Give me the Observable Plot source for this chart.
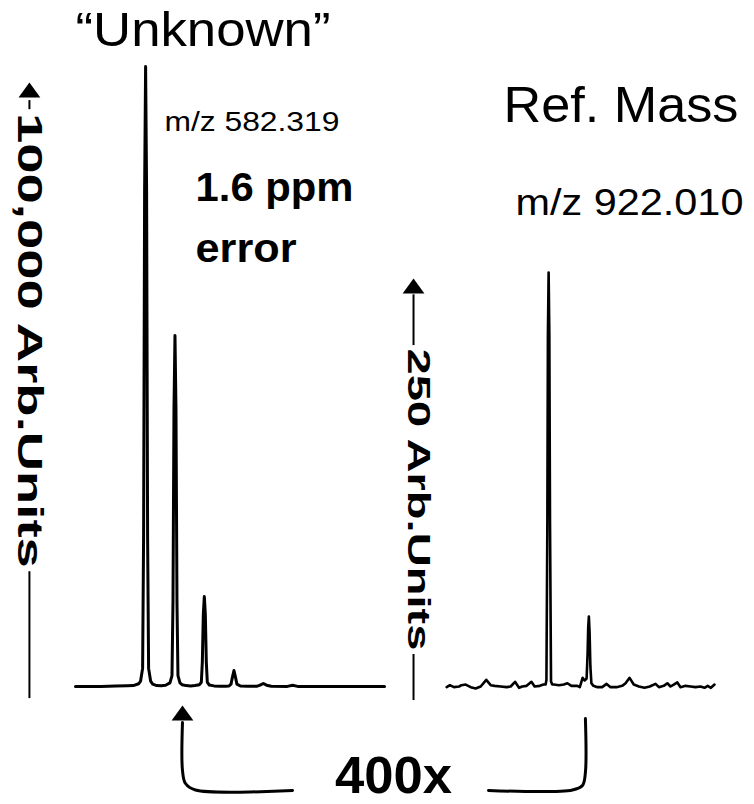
<!DOCTYPE html>
<html>
<head>
<meta charset="utf-8">
<script src="https://cdn.jsdelivr.net/npm/d3@7"></script>
<script src="https://cdn.jsdelivr.net/npm/@observablehq/plot@0.6"></script>
<style>
  body { margin: 0; background: #fff; }
  #fig { position: relative; width: 754px; height: 804px; overflow: hidden; font-family: "Liberation Sans", Arial, sans-serif; }
  #fig svg { position: absolute; left: 0; top: 0; }
</style>
</head>
<body>
<div id="fig"></div>
<script>
// ---------------- DATA ----------------
// "Unknown" spectrum (m/z, intensity in arb. units)
const unknownMz = [579.93, 580.8, 581.3, 581.7, 581.9, 582.08, 582.148, 582.217, 582.251, 582.285, 582.319, 582.353, 582.387, 582.421, 582.49, 582.56, 582.7, 582.85,
  583.0, 583.149, 583.218, 583.252, 583.286, 583.32, 583.354, 583.388, 583.422, 583.49, 583.56, 583.7, 583.85,
  584.0, 584.15, 584.218, 584.252, 584.286, 584.32, 584.354, 584.388, 584.422, 584.49, 584.65, 584.85,
  585.05, 585.16, 585.23, 585.28, 585.33, 585.38, 585.43, 585.55, 585.8,
  586.1, 586.22, 586.33, 586.44, 586.6, 587.15, 587.33, 587.5, 588.0, 590.46];
const unknownIntensity = [0, 0, 80, 120, 150, 450, 900, 3000, 25000, 82000, 102650, 82000, 25000, 3000, 900, 400, 150, 120,
  200, 600, 1800, 14000, 46000, 58100, 46000, 14000, 1800, 600, 300, 150, 100,
  150, 300, 700, 4000, 12000, 14900, 12000, 4000, 700, 250, 100, 60,
  50, 80, 400, 1600, 2650, 1600, 400, 80, 40,
  30, 220, 500, 220, 30, 20, 200, 20, 0, 0];

// Reference mass spectrum (m/z, intensity in arb. units)
const refMz = [919.46, 919.54, 919.64, 919.77, 919.83, 919.935, 920.06, 920.185, 920.31, 920.45, 920.56, 920.66, 920.81, 920.96, 921.06, 921.17, 921.27, 921.35, 921.46, 921.58, 921.66, 921.79, 921.88, 921.935,
  921.955, 921.978, 921.992, 922.01, 922.028, 922.045, 922.07,
  922.1, 922.14, 922.27, 922.39, 922.48, 922.58, 922.73, 922.79, 922.86, 922.91, 922.96,
  922.985, 923.0, 923.017, 923.035, 923.055, 923.08,
  923.13, 923.23, 923.35, 923.46, 923.56, 923.71, 923.85, 923.935, 924.035, 924.14, 924.27, 924.41, 924.54, 924.685, 924.77, 924.89, 924.98, 925.06, 925.14, 925.23, 925.31, 925.435, 925.56, 925.685, 925.81, 925.91, 925.99, 926.07, 926.16];
const refIntensity = [-0.4, 0.8, -0.4, 0, 0.8, 1.2, -0.4, -1.2, 0, 4.1, 0.8, 0.4, 0, -0.4, 0, 2.9, -0.8, 0, 0.4, 2.9, 0, 0.4, 1.2, 1.2,
  4, 100, 215, 253.7, 215, 100, 3,
  1.2, 1.2, 0.8, 1.2, 2.0, 0.4, 0.4, -0.4, 5.3, 3.7, 4.9,
  20, 36, 42.9, 33, 12, 2,
  0.4, -0.4, -0.4, 1.6, -0.4, -0.4, 0.4, 2.0, 5.3, 1.2, 0, -0.8, 0, 1.6, -0.4, 0.4, 2.0, 0, 1.2, 2.5, -0.4, 0.4, 0, -0.4, 0, -0.8, 0.4, -0.8, 1.2];

// Scale bars (arb. units)
const scaleBarValues = [100000, 250];

// Texts
const titles = ["\u201cUnknown\u201d", "Ref. Mass"];
const peakLabels = ["m/z 582.319", "m/z 922.010"];
const errorLines = ["1.6 ppm", "error"];
const scaleLabels = ["100,000 Arb.Units", "250 Arb.Units"];
const gainLabel = "400x";

// ---------------- LAYOUT (data units of each panel) ----------------
const font = "Liberation Sans, Arial, Helvetica, sans-serif";
const unknownTable = unknownMz.map((mz, i) => ({mz, intensity: unknownIntensity[i]}));
const refTable = refMz.map((mz, i) => ({mz, intensity: refIntensity[i]}));

const layoutA = {
  bar: {x: 578.36, top: 97000, bottom: -2000, gapTop: 95500, gapBottom: 19000, labelY: 57300, labelX: 578.36},
  title: {x: 584.275, y: 106000},
  peak: {x: 582.96, y: 92050},
  error: [{x: 584.02, y: 80300}, {x: 584.02, y: 70360}],
  bracket: [{x: 583.576, y: -5960}, {x: 583.576, y: -13907}, {x: 583.678, y: -16060}, {x: 584.019, y: -17136}, {x: 587.325, y: -17219}],
  bracketTip: {x: 583.576, y: -3146}
};
const layoutB = {
  bar: {x: 918.63, top: 240, bottom: -8.6, gapTop: 208.9, gapBottom: 19.6, labelY: 114.6, labelX: 918.73},
  title: {x: 923.82, y: 346.2},
  peak: {x: 921.18, y: 289.2},
  gain: {x: 918.13, y: -65.5},
  bracket: [{x: 922.93, y: -19.6}, {x: 922.93, y: -52.7}, {x: 922.857, y: -60.7}, {x: 922.607, y: -63.4}, {x: 920.506, y: -63.7}]
};

const textLengths = {
  [titles[0]]: 255, [titles[1]]: 235,
  [peakLabels[0]]: 175, [peakLabels[1]]: 228,
  [errorLines[0]]: 158, [errorLines[1]]: 101,
  [scaleLabels[0]]: 455, [scaleLabels[1]]: 302,
  [gainLabel]: 117
};

// filled arrowhead: tip at the anchor point, pointing up
const arrowHead = {
  draw(context, size) {
    const r = Math.sqrt(size / Math.PI);
    context.moveTo(0, 0);
    context.lineTo(r * 1.45, r * 2);
    context.lineTo(-r * 1.45, r * 2);
    context.closePath();
  }
};

const common = {width: 754, height: 804, style: {background: "transparent", fontFamily: font, overflow: "visible"}};
const head = {symbol: arrowHead, r: 7.5, fill: "black"};

// Panel A: Unknown
const plotA = Plot.plot({
  ...common,
  marginLeft: 75, marginRight: 370, marginTop: 82, marginBottom: 118,
  x: {domain: [579.93, 590.46], axis: null},
  y: {domain: [0, scaleBarValues[0]], axis: null},
  marks: [
    Plot.line(unknownTable, {x: "mz", y: "intensity", stroke: "black", strokeWidth: 3, strokeLinejoin: "round"}),
    Plot.ruleX([layoutA.bar.x], {y1: layoutA.bar.top, y2: layoutA.bar.gapTop, stroke: "black", strokeWidth: 2}),
    Plot.ruleX([layoutA.bar.x], {y1: layoutA.bar.gapBottom, y2: layoutA.bar.bottom, stroke: "black", strokeWidth: 2}),
    Plot.dot([{x: layoutA.bar.x, y: scaleBarValues[0]}], {x: "x", y: "y", ...head}),
    Plot.text([scaleLabels[0]], {x: layoutA.bar.labelX, y: layoutA.bar.labelY, text: d => d, rotate: 90, fontSize: 35, fontWeight: "bold", fill: "black", textAnchor: "middle", lineAnchor: "middle"}),
    Plot.text([titles[0]], {x: layoutA.title.x, y: layoutA.title.y, text: d => d, fontSize: 48, fill: "black", textAnchor: "middle", lineAnchor: "bottom"}),
    Plot.text([peakLabels[0]], {x: layoutA.peak.x, y: layoutA.peak.y, text: d => d, fontSize: 28, fill: "black", textAnchor: "start", lineAnchor: "bottom"}),
    Plot.text(errorLines, {x: (d, i) => layoutA.error[i].x, y: (d, i) => layoutA.error[i].y, text: d => d, fontSize: 41, fontWeight: "bold", fill: "black", textAnchor: "start", lineAnchor: "bottom"}),
    Plot.line(layoutA.bracket, {x: "x", y: "y", stroke: "black", strokeWidth: 3, curve: "catmull-rom"}),
    Plot.dot([layoutA.bracketTip], {x: "x", y: "y", ...head})
  ]
});

// Panel B: Reference mass
const plotB = Plot.plot({
  ...common,
  marginLeft: 445, marginRight: 38, marginTop: 278, marginBottom: 118,
  x: {domain: [919.43, 926.21], axis: null},
  y: {domain: [0, scaleBarValues[1]], axis: null},
  marks: [
    Plot.line(refTable, {x: "mz", y: "intensity", stroke: "black", strokeWidth: 2.6, strokeLinejoin: "round"}),
    Plot.ruleX([layoutB.bar.x], {y1: layoutB.bar.top, y2: layoutB.bar.gapTop, stroke: "black", strokeWidth: 2}),
    Plot.ruleX([layoutB.bar.x], {y1: layoutB.bar.gapBottom, y2: layoutB.bar.bottom, stroke: "black", strokeWidth: 2}),
    Plot.dot([{x: layoutB.bar.x, y: scaleBarValues[1]}], {x: "x", y: "y", ...head}),
    Plot.text([scaleLabels[1]], {x: layoutB.bar.labelX, y: layoutB.bar.labelY, text: d => d, rotate: 90, fontSize: 31, fontWeight: "bold", fill: "black", textAnchor: "middle", lineAnchor: "middle"}),
    Plot.text([titles[1]], {x: layoutB.title.x, y: layoutB.title.y, text: d => d, fontSize: 50, fill: "black", textAnchor: "middle", lineAnchor: "bottom"}),
    Plot.text([peakLabels[1]], {x: layoutB.peak.x, y: layoutB.peak.y, text: d => d, fontSize: 36, fill: "black", textAnchor: "start", lineAnchor: "bottom"}),
    Plot.text([gainLabel], {x: layoutB.gain.x, y: layoutB.gain.y, text: d => d, fontSize: 52, fontWeight: "bold", fill: "black", textAnchor: "middle", lineAnchor: "bottom"}),
    Plot.line(layoutB.bracket, {x: "x", y: "y", stroke: "black", strokeWidth: 3, curve: "catmull-rom"})
  ]
});

const fig = document.getElementById("fig");
for (const svg of [plotA, plotB]) {
  d3.select(svg).selectAll("text").each(function () {
    const t = this.textContent;
    if (textLengths[t]) {
      this.setAttribute("textLength", textLengths[t]);
      this.setAttribute("lengthAdjust", "spacingAndGlyphs");
    }
  });
  fig.appendChild(svg);
}
</script>
</body>
</html>
